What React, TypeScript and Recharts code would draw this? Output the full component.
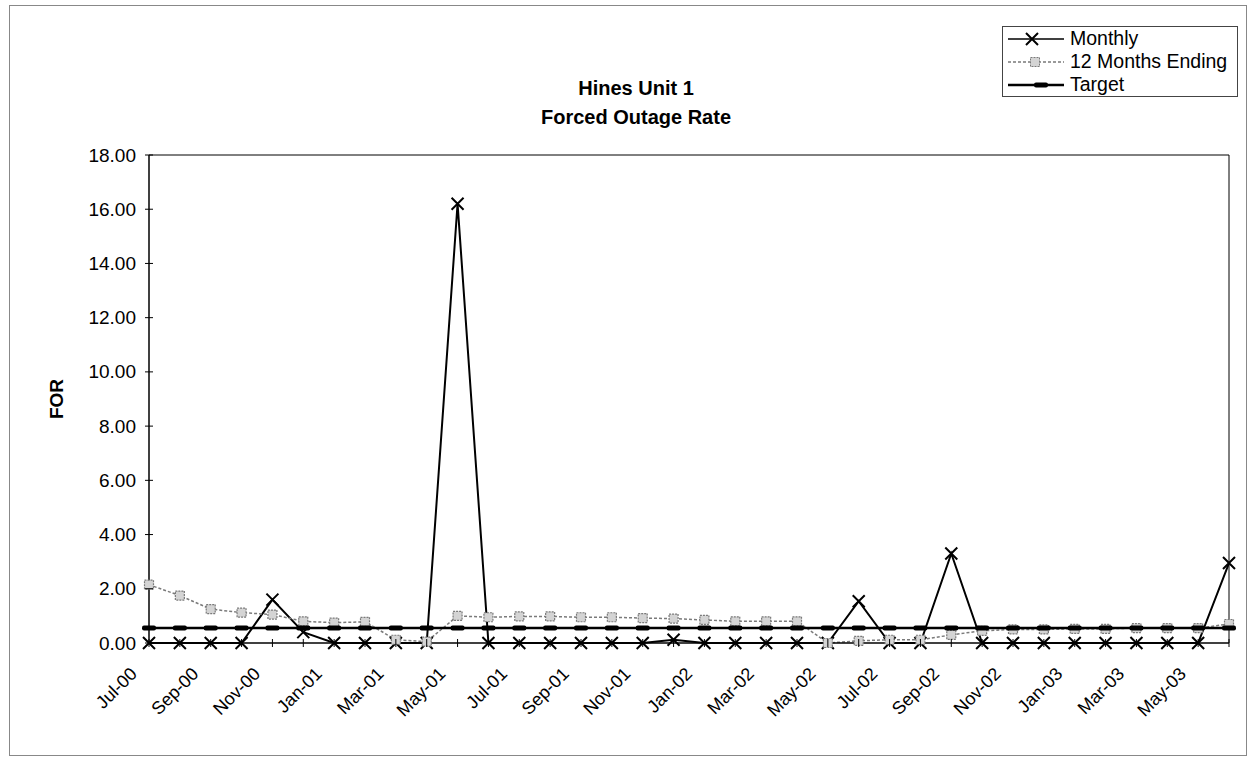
import { LineChart, Line, XAxis, YAxis, Legend, ReferenceLine } from "recharts";

const FONT = "'Liberation Sans', Arial, sans-serif";

const months = [
  "Jul-00", "Aug-00", "Sep-00", "Oct-00", "Nov-00", "Dec-00",
  "Jan-01", "Feb-01", "Mar-01", "Apr-01", "May-01", "Jun-01",
  "Jul-01", "Aug-01", "Sep-01", "Oct-01", "Nov-01", "Dec-01",
  "Jan-02", "Feb-02", "Mar-02", "Apr-02", "May-02", "Jun-02",
  "Jul-02", "Aug-02", "Sep-02", "Oct-02", "Nov-02", "Dec-02",
  "Jan-03", "Feb-03", "Mar-03", "Apr-03", "May-03", "Jun-03",
];

const monthly = [
  0, 0, 0, 0, 1.6, 0.4,
  0, 0, 0, 0, 16.2, 0,
  0, 0, 0, 0, 0, 0.12,
  0, 0, 0, 0, 0, 1.54,
  0, 0, 3.3, 0, 0, 0,
  0, 0, 0, 0, 0, 2.95,
];

const twelveMonthsEnding = [
  2.15, 1.75, 1.25, 1.12, 1.05, 0.8,
  0.75, 0.78, 0.12, 0.05, 1.0, 0.95,
  0.98, 0.98, 0.95, 0.95, 0.92, 0.9,
  0.85, 0.8, 0.8, 0.8, 0.0, 0.08,
  0.12, 0.12, 0.3, 0.45, 0.5, 0.5,
  0.52, 0.52, 0.55, 0.55, 0.55, 0.7,
];

const target = [
  0.55, 0.55, 0.55, 0.55, 0.55, 0.55,
  0.55, 0.55, 0.55, 0.55, 0.55, 0.55,
  0.55, 0.55, 0.55, 0.55, 0.55, 0.55,
  0.55, 0.55, 0.55, 0.55, 0.55, 0.55,
  0.55, 0.55, 0.55, 0.55, 0.55, 0.55,
  0.55, 0.55, 0.55, 0.55, 0.55, 0.55,
];

const yTicks = [0, 2, 4, 6, 8, 10, 12, 14, 16, 18];

const rows = months.map((month, i) => ({
  month,
  monthly: monthly[i],
  rolling: twelveMonthsEnding[i],
  target: target[i],
}));

function CrossDot(props: any) {
  const { cx, cy, index } = props;
  if (cx == null || cy == null) return null;
  return (
    <path
      key={`m-${index}`}
      d={`M${cx - 6},${cy - 6}L${cx + 6},${cy + 6}M${cx + 6},${cy - 6}L${cx - 6},${cy + 6}`}
      stroke="#000"
      strokeWidth={2}
      fill="none"
    />
  );
}

function SquareDot(props: any) {
  const { cx, cy, index } = props;
  if (cx == null || cy == null) return null;
  return (
    <rect
      key={`r-${index}`}
      x={cx - 4.5}
      y={cy - 4.5}
      width={9}
      height={9}
      fill="#d4d4d4"
      stroke="#7a7a7a"
      strokeWidth={1.2}
      strokeDasharray="2 1"
    />
  );
}

function DashDot(props: any) {
  const { cx, cy, index } = props;
  if (cx == null || cy == null) return null;
  return (
    <rect
      key={`t-${index}`}
      x={cx - 7}
      y={cy - 2.5}
      width={14}
      height={5}
      rx={2}
      fill="#000"
    />
  );
}

// month ticks cross the axis; only every other month gets a label
function XTick(props: any) {
  const { x, y, payload, index } = props;
  const tx = x - 11;
  const ty = y + 32;
  return (
    <g>
      <line x1={x} x2={x} y1={y - 4} y2={y + 4} stroke="#000" strokeWidth={1} />
      {index % 2 === 0 && (
        <text
          x={tx}
          y={ty}
          transform={`rotate(-45, ${tx}, ${ty})`}
          textAnchor="end"
          fontFamily={FONT}
          fontSize={18}
          fill="#000"
        >
          {payload.value}
        </text>
      )}
    </g>
  );
}

function YTick(props: any) {
  const { x, y, payload } = props;
  return (
    <g>
      <line x1={x - 4} x2={x + 4} y1={y} y2={y} stroke="#000" strokeWidth={1} />
      <text
        x={x - 13}
        y={y}
        textAnchor="end"
        dominantBaseline="central"
        fontFamily={FONT}
        fontSize={19}
        fill="#000"
      >
        {Number(payload.value).toFixed(2)}
      </text>
    </g>
  );
}

function LegendBox() {
  const items = [
    { label: "Monthly", kind: "monthly" },
    { label: "12 Months Ending", kind: "rolling" },
    { label: "Target", kind: "target" },
  ];
  return (
    <div
      style={{
        border: "1px solid #444",
        background: "#fff",
        width: 236,
        height: 71,
        boxSizing: "border-box",
        padding: "0 0 0 3px",
        fontFamily: FONT,
        fontSize: 19.5,
        color: "#000",
      }}
    >
      {items.map((it) => (
        <div key={it.kind} style={{ display: "flex", alignItems: "center", height: 23 }}>
          <svg width={60} height={16} style={{ marginRight: 4, flex: "none" }}>
            {it.kind === "monthly" && (
              <>
                <line x1={2} x2={58} y1={8} y2={8} stroke="#000" strokeWidth={1.5} />
                <path d="M20,2L32,14M32,2L20,14" stroke="#000" strokeWidth={2} />
              </>
            )}
            {it.kind === "rolling" && (
              <>
                <line x1={2} x2={58} y1={8} y2={8} stroke="#7a7a7a" strokeWidth={1.5} strokeDasharray="3 2" />
                <rect x={24.5} y={3.5} width={9} height={9} fill="#d4d4d4" stroke="#7a7a7a" strokeDasharray="2 1" />
              </>
            )}
            {it.kind === "target" && (
              <>
                <line x1={2} x2={58} y1={8} y2={8} stroke="#000" strokeWidth={2.5} />
                <rect x={28} y={5.5} width={14} height={5} rx={2} fill="#000" />
              </>
            )}
          </svg>
          <span style={{ whiteSpace: "nowrap" }}>{it.label}</span>
        </div>
      ))}
    </div>
  );
}

export default function App() {
  return (
    <div style={{ position: "relative", width: 1250, height: 758, background: "#fff" }}>
      <style>{"body{margin:0;}"}</style>
      <div
        style={{
          position: "absolute",
          left: 9,
          top: 5,
          width: 1238,
          height: 751,
          border: "1px solid #888",
          boxSizing: "border-box",
        }}
      />
      <div
        style={{
          position: "absolute",
          left: 436,
          top: 74,
          width: 400,
          textAlign: "center",
          fontFamily: FONT,
          fontWeight: "bold",
          fontSize: 20,
          lineHeight: "29px",
          color: "#000",
        }}
      >
        <div>Hines Unit 1</div>
        <div>Forced Outage Rate</div>
      </div>
      <div
        style={{
          position: "absolute",
          left: 57,
          top: 399,
          transform: "translate(-50%, -50%) rotate(-90deg)",
          fontFamily: FONT,
          fontWeight: "bold",
          fontSize: 19,
          color: "#000",
        }}
      >
        FOR
      </div>
      <LineChart
        width={1250}
        height={758}
        data={rows}
        margin={{ top: 155, right: 21, bottom: 0, left: 0 }}
        style={{ position: "absolute", left: 0, top: 0 }}
      >
        <XAxis
          dataKey="month"
          interval={0}
          height={115}
          tickSize={0}
          tickMargin={0}
          tickLine={false}
          tick={<XTick />}
          axisLine={{ stroke: "#000", strokeWidth: 1.5 }}
        />
        <YAxis
          domain={[0, 18]}
          ticks={yTicks}
          width={149}
          tickSize={0}
          tickMargin={0}
          tickLine={false}
          tick={<YTick />}
          axisLine={{ stroke: "#000", strokeWidth: 1.5 }}
        />
        <ReferenceLine y={18} stroke="#000" strokeWidth={1} ifOverflow="visible" />
        <ReferenceLine x="Jun-03" stroke="#000" strokeWidth={1} ifOverflow="visible" />
        <Legend
          layout="vertical"
          align="center"
          verticalAlign="middle"
          content={() => <LegendBox />}
          wrapperStyle={{ position: "absolute", left: 1002, top: 26, width: 236, height: 71 }}
        />
        <Line
          type="linear"
          dataKey="monthly"
          name="Monthly"
          stroke="#000"
          strokeWidth={2}
          dot={CrossDot}
          activeDot={false}
          isAnimationActive={false}
        />
        <Line
          type="linear"
          dataKey="rolling"
          name="12 Months Ending"
          stroke="#7a7a7a"
          strokeWidth={1.5}
          strokeDasharray="3 2"
          dot={SquareDot}
          activeDot={false}
          isAnimationActive={false}
        />
        <Line
          type="linear"
          dataKey="target"
          name="Target"
          stroke="#000"
          strokeWidth={2.5}
          dot={DashDot}
          activeDot={false}
          isAnimationActive={false}
        />
      </LineChart>
    </div>
  );
}
